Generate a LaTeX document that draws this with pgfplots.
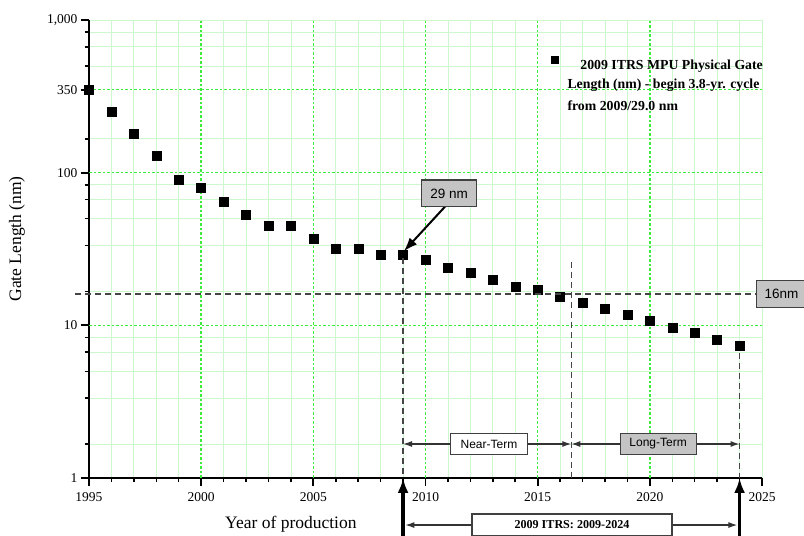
\documentclass[border=0pt]{standalone}
\usepackage{pgfplots}
\pgfplotsset{compat=1.18}
\usepackage{fontspec}
\setmainfont{Liberation Serif}
\newfontfamily\arial{Liberation Sans}
\usetikzlibrary{arrows.meta}
\definecolor{gmaj}{RGB}{60,235,60}
\definecolor{gmin}{HTML}{CDF8CD}
\definecolor{dgray}{HTML}{454545}
\definecolor{boxgray}{HTML}{C4C4C4}
\tikzset{
  box/.style={draw=black!75, line width=1.1pt, inner sep=0pt, font=\arial\fontsize{12}{14}\selectfont},
  vdash/.style={draw=dgray, line width=1.5pt, dash pattern=on 6pt off 4pt},
  mgrid/.style={draw=gmaj, line width=1.6pt, dash pattern=on 2.5pt off 2pt},
}
\begin{document}
\begin{tikzpicture}
\useasboundingbox (0pt,0pt) rectangle (804pt,536pt);
\begin{axis}[
  scale only axis, width=673pt, height=458pt,
  at={(89pt,58pt)}, anchor=south west,
  xmin=1995, xmax=2025, ymode=log, ymin=1, ymax=1000,
  axis lines*=left,
  axis line style={line width=2.4pt, draw=black},
  every inner x axis line/.append style={line width=2.4pt},
  every inner y axis line/.append style={line width=2.4pt},
  xtick={1995,2000,2005,2010,2015,2020,2025},
  xticklabels={1995,2000,2005,2010,2015,2020,2025},
  minor xtick={1996,1997,1998,1999,2001,2002,2003,2004,2006,2007,2008,2009,2011,2012,2013,2014,2016,2017,2018,2019,2021,2022,2023,2024,2025},
  ytick={1,10,100,350,1000},
  yticklabels={1,10,100,350,{1,000}},
  minor ytick={1.667,3.333,5,6.667,8.333,16.67,33.33,50,66.67,83.33,166.7,500,666.7,833.3,1000},
  xminorgrids, yminorgrids,
  every minor grid/.style={draw=gmin, line width=0.8pt},
  tick align=outside, major tick length=8pt, minor tick length=4.5pt,
  every major tick/.style={draw=black, line width=1.8pt},
  every minor tick/.style={draw=black, line width=1.5pt},
  tick label style={font=\fontsize{13.5}{15}\selectfont},
  xticklabel style={yshift=-3pt},
  /pgf/number format/assume math mode=true,
  xlabel={Year of production},
  xlabel style={at={(axis description cs:0.3,-0.1004)}, anchor=center, font=\fontsize{17.5}{20}\selectfont},
  ylabel={Gate Length (nm)},
  ylabel style={at={(axis description cs:-0.107,0.522)}, anchor=center, font=\fontsize{17.5}{20}\selectfont},
  clip mode=individual,
  legend style={draw=none, fill=none, at={(axis cs:2015.573,519)}, anchor=west,
    inner sep=0pt, outer sep=0pt, font=\bfseries\fontsize{13.8}{16}\selectfont,
    nodes={inner sep=0pt},
    /tikz/every odd column/.append style={column sep=22.5pt}},
  legend image code/.code={\fill[black] (-3.5pt,2.5pt) rectangle (3.5pt,9.5pt);},
]
% major grid lines
\draw[mgrid] (axis cs:2000,1) -- (axis cs:2000,1000);
\draw[mgrid] (axis cs:2005,1) -- (axis cs:2005,1000);
\draw[mgrid] (axis cs:2010,1) -- (axis cs:2010,1000);
\draw[mgrid] (axis cs:2015,1) -- (axis cs:2015,1000);
\draw[mgrid] (axis cs:2020,1) -- (axis cs:2020,1000);
\draw[mgrid] (axis cs:1995,10) -- (axis cs:2025,10);
\draw[mgrid] (axis cs:1995,100) -- (axis cs:2025,100);
\draw[mgrid] (axis cs:1995,350) -- (axis cs:2025,350);

\addplot[only marks, mark=square*, mark size=4.5pt, black] coordinates {
(1995,350) (1996,250) (1997,180) (1998,130) (1999,90) (2000,80)
(2001,65) (2002,53) (2003,45) (2004,45) (2005,37) (2006,32)
(2007,32) (2008,29) (2009,29) (2010,27) (2011,24) (2012,22)
(2013,20) (2014,18) (2015,17) (2016,15.3) (2017,14) (2018,12.8)
(2019,11.7) (2020,10.7) (2021,9.7) (2022,8.9) (2023,8.1) (2024,7.4)
};
\addlegendentry{2009 ITRS MPU Physical Gate}

% 16 nm reference line
\draw[vdash] (axis cs:1994.376,16) -- (axis cs:2024.73,16);
\node[box, fill=boxgray, anchor=west, minimum width=50pt, minimum height=27pt,
      font=\arial\fontsize{13.5}{15}\selectfont, text width=46pt, align=center] at (axis cs:2024.73,16) {16nm};
% vertical dashed lines
\draw[vdash] (axis cs:2009,27.5) -- (axis cs:2009,1);
\draw[vdash] (axis cs:2016.5,26.1) -- (axis cs:2016.5,1);
\draw[vdash] (axis cs:2024,6.6) -- (axis cs:2024,1);
% near / long term arrows
\draw[black!80, line width=1.2pt, {Latex[length=9pt,width=6pt]}-{Latex[length=9pt,width=6pt]}] (axis cs:2009,1.67) -- (axis cs:2016.5,1.67);
\draw[black!80, line width=1.2pt, {Latex[length=9pt,width=6pt]}-{Latex[length=9pt,width=6pt]}] (axis cs:2016.5,1.67) -- (axis cs:2024,1.67);
\node[box, fill=white, minimum width=77pt, minimum height=21.3pt] at (axis cs:2012.83,1.67) {Near-Term};
\node[box, fill=boxgray, minimum width=76pt, minimum height=21.3pt] at (axis cs:2020.37,1.67) {Long-Term};
% 29 nm callout
\draw[black, line width=2pt, -{Latex[length=14pt,width=10pt]}] (axis cs:2010.87,59.9) -- (axis cs:2009.03,30.5);
\node[box, fill=boxgray, minimum width=54.3pt, minimum height=26.7pt, font=\arial\fontsize{13.5}{15}\selectfont] at (axis cs:2011.05,73.2) {29 nm};
% bottom range
\draw[black, line width=3.2pt, -{Latex[length=15pt,width=11pt]}] (axis cs:2009,0.38) -- (axis cs:2009,1);
\draw[black, line width=3.2pt, -{Latex[length=15pt,width=11pt]}] (axis cs:2024,0.38) -- (axis cs:2024,1);
\draw[black!80, line width=1.2pt, {Latex[length=9pt,width=6pt]}-{Latex[length=9pt,width=6pt]}] (axis cs:2009.1,0.492) -- (axis cs:2023.9,0.492);
\node[box, fill=white, minimum width=200pt, minimum height=22pt, font=\bfseries\fontsize{12.1}{14}\selectfont] at (axis cs:2016.53,0.492) {2009 ITRS: 2009-2024};
\end{axis}
\node[anchor=base west, inner sep=0pt, font=\bfseries\fontsize{13.8}{16}\selectfont] at (567.3pt,447.6pt) {Length (nm) - begin 3.8-yr. cycle};
\node[anchor=base west, inner sep=0pt, font=\bfseries\fontsize{13.8}{16}\selectfont] at (567.3pt,425.9pt) {from 2009/29.0 nm};
\end{tikzpicture}
\end{document}
